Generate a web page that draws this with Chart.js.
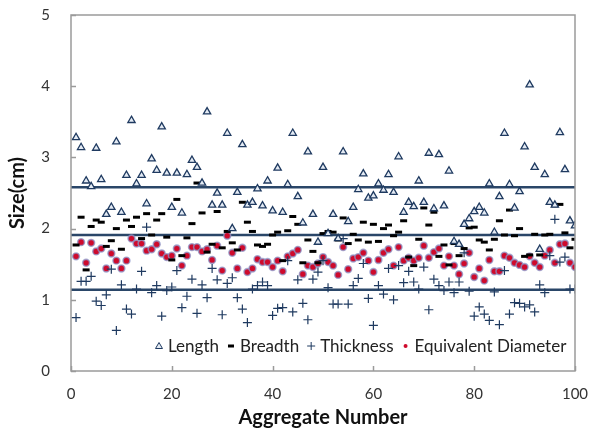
<!DOCTYPE html>
<html>
<head>
<meta charset="utf-8">
<script src="https://cdn.jsdelivr.net/npm/chart.js@4.4.1/dist/chart.umd.min.js"></script>
<style>
  body { margin: 0; background: #fff; }
  #wrap { width: 591px; height: 435px; position: relative; }
</style>
</head>
<body>
<div id="wrap"><canvas id="myCanvas"></canvas></div>
<script>
// values, aggregate 1..100
var length_cm = [3.28,3.14,2.67,2.59,3.13,2.69,2.20,2.30,3.22,2.23,2.75,3.52,2.63,2.75,2.35,2.98,2.82,3.43,2.78,2.30,
  2.78,2.22,2.76,2.96,2.86,2.64,3.64,2.33,2.50,2.33,3.34,2.00,2.51,3.18,2.33,2.37,2.56,2.32,2.67,2.25,
  2.85,2.23,2.62,3.34,2.45,2.08,3.08,2.20,1.81,2.86,1.93,2.20,1.86,3.08,2.10,2.30,2.55,2.77,2.43,2.46,
  2.63,2.54,2.76,2.51,3.01,2.23,2.37,2.31,2.67,2.37,3.06,2.28,3.04,2.32,2.81,1.82,1.78,2.06,2.14,2.24,
  2.30,2.22,2.63,1.95,2.45,3.34,2.62,2.29,2.52,3.15,4.02,2.86,1.71,2.76,2.37,2.33,3.35,2.83,2.11,2.04];
var breadth_cm = [1.77,2.16,1.42,2.03,2.12,2.09,1.75,1.83,2.00,1.71,2.12,2.03,2.16,1.86,2.21,1.91,2.12,2.21,1.88,1.56,
  2.41,1.62,1.87,2.07,2.64,2.22,1.67,1.78,2.24,1.73,1.96,1.80,1.70,2.37,2.09,1.96,1.77,1.75,1.78,1.91,
  1.95,1.55,1.97,2.17,2.06,1.52,1.84,1.68,1.52,1.93,1.96,1.95,1.84,2.15,1.79,1.92,1.84,2.09,1.81,2.06,
  1.82,2.00,2.05,1.90,1.95,2.11,1.60,1.48,1.85,2.29,2.05,2.23,1.61,1.77,1.49,1.79,1.62,1.72,2.01,2.02,
  1.84,1.81,1.70,1.85,2.11,1.91,2.26,1.90,2.00,1.61,1.63,1.92,1.63,1.91,1.92,2.32,2.34,1.94,1.73,1.85];
var thickness_cm = [0.75,1.26,1.26,1.33,0.98,0.92,1.07,1.43,0.57,1.21,0.87,0.80,1.15,1.40,2.02,1.10,1.20,0.77,1.13,1.18,
  1.41,0.89,1.05,1.29,0.81,1.21,1.03,1.44,1.28,0.79,1.23,1.31,1.03,0.87,0.68,1.15,1.20,1.25,1.20,0.78,
  0.88,0.89,1.55,0.83,1.28,0.95,0.72,1.29,1.39,1.55,1.17,0.94,0.94,1.86,0.94,1.20,1.30,1.51,1.02,0.64,
  1.20,1.08,1.44,1.00,1.48,1.24,1.40,1.25,1.15,1.46,0.86,1.29,1.20,1.13,1.25,1.10,1.25,1.66,1.12,0.77,
  0.90,0.80,0.71,1.11,0.65,1.41,0.80,0.96,0.95,0.90,0.93,0.83,1.21,1.10,1.62,2.13,1.53,1.60,1.15,1.15];
var equiv_cm = [1.61,1.81,1.52,1.80,1.68,1.72,1.44,1.65,1.55,1.44,1.55,1.86,1.79,1.79,1.69,1.71,1.78,1.65,1.60,1.62,
  1.72,1.48,1.62,1.74,1.74,1.68,1.71,1.56,1.76,1.41,1.90,1.66,1.44,1.73,1.39,1.44,1.57,1.53,1.53,1.46,
  1.55,1.40,1.61,1.65,1.70,1.36,1.48,1.46,1.51,1.60,1.53,1.48,1.35,1.74,1.43,1.58,1.60,1.66,1.55,1.39,
  1.56,1.66,1.71,1.48,1.74,1.55,1.59,1.55,1.59,1.76,1.59,1.67,1.72,1.48,1.61,1.48,1.36,1.51,1.66,1.32,
  1.44,1.27,1.56,1.40,1.40,1.62,1.59,1.52,1.49,1.46,1.61,1.52,1.46,1.62,1.70,1.52,1.78,1.79,1.52,1.46];
var ref_lines = [2.58, 1.91, 1.14];
var x_ticks = [0, 20, 40, 60, 80, 100];
var y_ticks = [0, 1, 2, 3, 4, 5];

function toPoints(arr){
  var pts = [];
  for (var i = 0; i < arr.length; i++) pts.push({x: i + 1, y: arr[i]});
  return pts;
}

var navy = '#1f3a60';
var datasets = [];
for (var k = 0; k < ref_lines.length; k++) {
  datasets.push({
    type: 'line', label: '_ref' + k,
    data: [{x: 0, y: ref_lines[k]}, {x: 100, y: ref_lines[k]}],
    borderColor: '#2a4668', borderWidth: 2.5, pointRadius: 0, order: 10
  });
}
datasets.push({label: 'Length', data: toPoints(length_cm), pointStyle: 'triangle',
  radius: 4.2, borderColor: navy, backgroundColor: '#e4ebf4', borderWidth: 1.3});
datasets.push({label: 'Breadth', data: toPoints(breadth_cm), pointStyle: 'line',
  radius: 3.5, borderColor: '#000', backgroundColor: '#000', borderWidth: 3});
datasets.push({label: 'Thickness', data: toPoints(thickness_cm), pointStyle: 'cross',
  radius: 4.5, borderColor: navy, backgroundColor: navy, borderWidth: 1.2});
datasets.push({label: 'Equivalent Diameter', data: toPoints(equiv_cm), pointStyle: 'circle',
  radius: 3.4, borderColor: 'rgba(140,150,200,0.75)', backgroundColor: '#cf0a2c', borderWidth: 1.6});

// box around plot, inside tick marks and in-plot legend
var frame = {
  id: 'frame',
  afterDraw: function(chart){
    var ctx = chart.ctx, a = chart.chartArea;
    var xs = chart.scales.x, ys = chart.scales.y;
    ctx.save();
    ctx.strokeStyle = '#9a9a9a';
    ctx.lineWidth = 1.5;
    ctx.strokeRect(a.left, a.top, a.right - a.left, a.bottom - a.top);
    ctx.beginPath();
    for (var i = 0; i < y_ticks.length; i++) {
      var py = Math.round(ys.getPixelForValue(y_ticks[i])) + 0.5;
      ctx.moveTo(a.left, py); ctx.lineTo(a.left + 5, py);
    }
    for (var j = 0; j < x_ticks.length; j++) {
      var px = Math.round(xs.getPixelForValue(x_ticks[j])) + 0.5;
      ctx.moveTo(px, a.bottom); ctx.lineTo(px, a.bottom - 5);
    }
    ctx.stroke();

    // legend
    ctx.font = '17px Lato';
    ctx.textBaseline = 'middle';
    var ly = a.bottom - 25;
    var lx = a.left + 88;
    var items = chart.data.datasets.filter(function(d){ return d.label.charAt(0) != '_'; });
    for (var n = 0; n < items.length; n++) {
      var d = items[n];
      ctx.strokeStyle = d.borderColor;
      ctx.fillStyle = d.backgroundColor;
      ctx.lineWidth = 1;
      ctx.beginPath();
      if (d.pointStyle == 'triangle') {
        ctx.moveTo(lx, ly - 3.5); ctx.lineTo(lx + 3.5, ly + 2.5); ctx.lineTo(lx - 3.5, ly + 2.5); ctx.closePath();
        ctx.fill(); ctx.stroke();
      } else if (d.pointStyle == 'line') {
        ctx.fillStyle = '#000'; ctx.fillRect(lx - 3, ly - 1.5, 6, 3);
      } else if (d.pointStyle == 'cross') {
        ctx.moveTo(lx - 4, ly); ctx.lineTo(lx + 4, ly); ctx.moveTo(lx, ly - 4); ctx.lineTo(lx, ly + 4); ctx.stroke();
      } else {
        ctx.arc(lx, ly, 2, 0, Math.PI * 2); ctx.fillStyle = '#cf0a2c'; ctx.fill();
      }
      ctx.fillStyle = '#222';
      ctx.fillText(d.label, lx + 9, ly + 1);
      lx += 9 + ctx.measureText(d.label).width + 12;
    }
    ctx.restore();
  }
};

var ctx = document.getElementById('myCanvas');
var chart = new Chart(ctx, {
  type: 'scatter',
  data: {datasets: datasets},
  options: {
    responsive: true,
    maintainAspectRatio: false,
    animation: false,
    layout: {padding: 0},
    plugins: {legend: {display: false}, tooltip: {enabled: false}},
    scales: {
      x: {
        type: 'linear', min: 0, max: 100,
        afterBuildTicks: function(s){ s.ticks = x_ticks.map(function(v){ return {value: v}; }); },
        afterFit: function(s){ s.height = 64; s.paddingLeft = 0; s.paddingRight = 16; },
        grid: {display: false}, border: {display: false},
        ticks: {font: {family: 'Lato', size: 15}, color: '#333', padding: 6},
        title: {display: true, text: 'Aggregate Number', font: {family: 'Lato', size: 20, weight: 'bold'}, color: '#111', padding: {top: 0, bottom: 5}}
      },
      y: {
        min: 0, max: 5,
        afterBuildTicks: function(s){ s.ticks = y_ticks.map(function(v){ return {value: v}; }); },
        afterFit: function(s){ s.width = 71; s.paddingTop = 15; s.paddingBottom = 0; },
        grid: {display: false}, border: {display: false},
        ticks: {font: {family: 'Lato', size: 15}, color: '#333', padding: 13},
        title: {display: true, text: 'Size(cm)', font: {family: 'Lato', size: 20, weight: 'bold'}, color: '#111', padding: {top: 6, bottom: 0}}
      }
    }
  },
  plugins: [frame]
});
</script>
</body>
</html>
